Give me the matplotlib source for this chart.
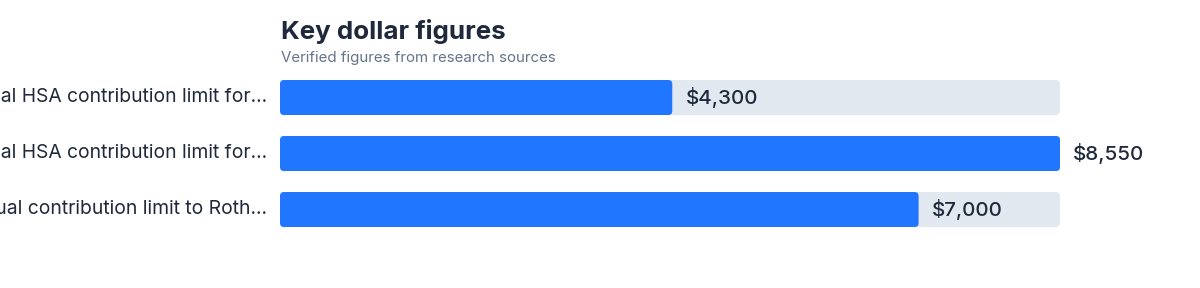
import matplotlib.pyplot as plt
from matplotlib.patches import FancyBboxPatch

plt.rcParams['font.family'] = ['Inter', 'DejaVu Sans']

labels = ["Annual HSA contribution limit for...",
          "Annual HSA contribution limit for...",
          "Annual contribution limit to Roth..."]
values = [4300, 8550, 7000]
value_text = ["$4,300", "$8,550", "$7,000"]

blue = '#2176FF'
track = '#E2E8F0'
dark = '#1E293B'
grey = '#64748B'

W, H = 1200, 288
fig = plt.figure(figsize=(W / 100, H / 100), dpi=100)
# axes spans the bar area in pixels: x 280..1060, y 80..227
ax = fig.add_axes([280 / W, 1 - 227 / H, 780 / W, 147 / H])
vmax = max(values)
bh = 0.625
ax.set_xlim(0, vmax)
ax.set_ylim(len(values) - 1 + bh / 2, -bh / 2)
ax.axis('off')

xpp = vmax / 780.0      # x units per pixel
ypp = 1 / 56.0          # y units per pixel
r = 4 * xpp
asp = ypp / xpp

for i, (lab, v, t) in enumerate(zip(labels, values, value_text)):
    ax.add_patch(FancyBboxPatch((0, i - bh / 2), vmax, bh,
                                boxstyle=f"round,pad=0,rounding_size={r}",
                                mutation_aspect=asp, fc=track, ec='none'))
    ax.add_patch(FancyBboxPatch((0, i - bh / 2), v, bh,
                                boxstyle=f"round,pad=0,rounding_size={r}",
                                mutation_aspect=asp, fc=blue, ec='none'))
    ax.annotate(t, (v, i), xytext=(9.5, 0), textcoords='offset points',
                ha='left', va='center', fontsize=14.8, color=dark, fontweight='medium')
    ax.annotate(lab, (0, i), xytext=(-9.5, 0), textcoords='offset points',
                ha='right', va='center', fontsize=13.9, color=dark,
                annotation_clip=False)

fig.text(281 / W, 1 - 39 / H, "Key dollar figures", fontsize=18.7, fontweight='bold',
         color=dark, ha='left', va='baseline')
fig.text(281 / W, 1 - 62 / H, "Verified figures from research sources", fontsize=10.85,
         color=grey, ha='left', va='baseline')

fig.savefig('out.png', dpi=100, facecolor='white')
